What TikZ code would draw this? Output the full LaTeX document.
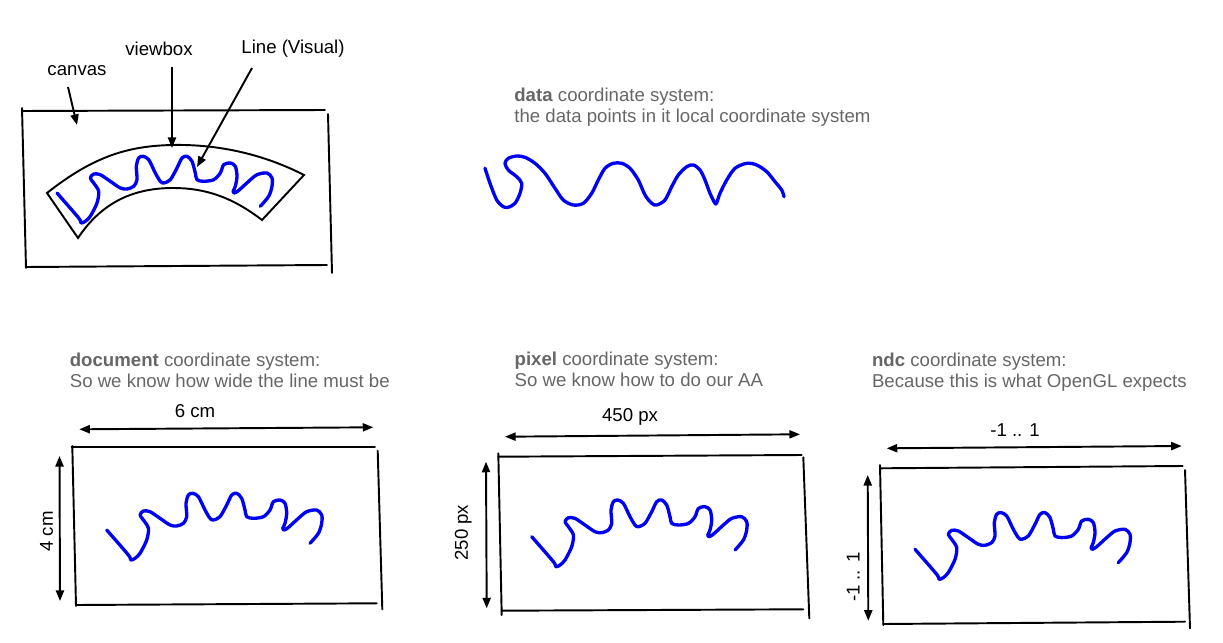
\documentclass[tikz,border=0pt]{standalone}
\usepackage{fontspec}
\setmainfont{Liberation Sans}
\usetikzlibrary{arrows.meta}
\definecolor{captiongray}{HTML}{666666}
\definecolor{waveblue}{HTML}{0000F2}

\tikzset{
  frameline/.style={line width=1.1pt, line cap=round},
  dimarrow/.style={line width=1.1pt,
    {Triangle[length=6pt,width=4.6pt]}-{Triangle[length=6pt,width=4.6pt]}},
  pointer/.style={line width=1.1pt, -{Triangle[length=6pt,width=4.6pt]}},
  blueline/.style={waveblue, line width=1.9pt, line cap=round, line join=round},
  lbl/.style={inner sep=0pt, font=\fontsize{10.6}{12}\selectfont},
  caption/.style={inner sep=0pt, anchor=north west, align=left,
    text=captiongray, font=\fontsize{10.6}{11.9}\selectfont},
  % the same wiggly line, drawn from its start point
  wave/.pic={\draw[blueline] plot[smooth, tension=0.5] coordinates {
    (0,0) (21.7,25) (24,30) (28.3,28.3) (33.3,23.3) (40,10) (41.7,-1.7)
    (36.7,-10) (33.3,-15) (36.7,-19) (43.3,-18.3) (53.3,-11.7) (63.3,-5)
    (70,-4) (76.7,-6.7) (80,-13.3) (79.3,-26.7) (81.7,-35) (86,-36.7)
    (91.7,-33.3) (98.3,-20) (103.3,-11.7) (106.7,-10) (113.3,-13.3)
    (120,-25) (125,-35) (130,-36.7) (135,-31.7) (138.3,-20) (140,-13.3)
    (146.7,-11.7) (156.7,-13.3) (163.3,-20) (166.7,-28.3) (173.3,-30)
    (178.3,-26.7) (180,-16.7) (178.3,-6.7) (176,-1.5) (177,0) (181,-2)
    (191.7,-11.7) (200,-18.3) (210,-20) (215,-15) (215,-6.7) (211.7,3.3)
    (203.3,13.3)};}
}

\begin{document}
\begin{tikzpicture}[x=0.02cm, y=-0.02cm]
\useasboundingbox (0,0) rectangle (1223,642);

% ---------- canvas with its viewbox ----------
\draw[frameline] (22,111) -- (325,110);
\draw[frameline] (22,108) -- (26,268);
\draw[frameline] (26,267) -- (327,265);
\draw[frameline] (328,114) -- (332,273);

\draw[frameline, line join=miter]
  (47,193) .. controls (95,155) and (130,146) .. (172,145)
           .. controls (220,144) and (265,155) .. (304,175)
  -- (262,220) .. controls (232,197) and (205,188) .. (173,188)
               .. controls (130,188) and (100,205) .. (78,238)
  -- cycle;

\pic at (57,193) {wave};

\node[lbl] (canvaslbl) at (77,71) {canvas};
\node[lbl] (viewboxlbl) at (159,49) {viewbox};
\node[lbl] (linelbl) at (293,49) {Line (Visual)};

\coordinate (canvastip) at (77,125);
\coordinate (viewboxtip) at (172,148);
\coordinate (linetip) at (197,167);
\draw[pointer] (68,87) -- (canvastip);
\draw[pointer] (172,67) -- (viewboxtip);
\draw[pointer] (252,68) -- (linetip);

% ---------- data coordinate system ----------
\node[caption] (datacap) at (514,87.5)
  {\textbf{data} coordinate system:\\the data points in it local coordinate system};

\draw[blueline] plot[smooth, tension=0.5] coordinates {
  (485,168.3) (490,183.3) (496.7,200) (503.3,206.7) (508.3,207.3)
  (515,203.3) (520,193.3) (521.7,183.3) (516.7,176.7) (508.3,170)
  (505,163.3) (508.3,158.3) (516.7,156) (525,157.3) (535,163.3)
  (545,173.3) (555,188.3) (563.3,200) (573.3,205) (583.3,203.3)
  (591.7,193.3) (598.3,180) (605,168.3) (613.3,163.3) (621.7,163.3)
  (630,168.3) (638.3,180) (645,195) (651.7,203.3) (656.7,205)
  (665,200) (671.7,186.7) (678.3,175) (686.7,166.7) (693.3,165)
  (700,170) (705,180) (710,193.3) (715,203.3) (716.7,202.7)
  (720,193.3) (726.7,180) (735,168.3) (746.7,163.3) (756.7,165)
  (766.7,171.7) (775,181.7) (781.7,190) (784,196.7)};

% ---------- document coordinate system ----------
\node[caption] (doccap) at (69.5,353)
  {\textbf{document} coordinate system:\\So we know how wide the line must be};
\draw[frameline] (71.7,447.3) -- (375,447.3);
\draw[frameline] (72.3,446) -- (76,606);
\draw[frameline] (76,605) -- (376.7,603.3);
\draw[frameline] (377.7,450.7) -- (382.3,609.3);
\coordinate (docwl) at (79.3,429.3);
\coordinate (docwr) at (373.3,427.3);
\coordinate (dochb) at (59.5,456);
\coordinate (dochb2) at (60,601);
\draw[dimarrow] (docwl) -- (docwr);
\draw[dimarrow] (dochb) -- (dochb2);
\node[lbl] (docw) at (195,411.5) {6 cm};
\node[lbl, rotate=90] (doch) at (46.5,531.5) {4 cm};
\pic at (106.7,530) {wave};

% ---------- pixel coordinate system ----------
\node[caption] (pixcap) at (514.3,351.5)
  {\textbf{pixel} coordinate system:\\So we know how to do our AA};
\draw[frameline] (498.3,456.7) -- (801.7,455);
\draw[frameline] (498.3,453.3) -- (501.7,615);
\draw[frameline] (501.7,610.7) -- (803.3,609.3);
\draw[frameline] (803.3,457.3) -- (809.3,618.3);
\coordinate (pixwl) at (505,436.7);
\coordinate (pixwr) at (800,434.3);
\coordinate (pixht) at (486,461.7);
\coordinate (pixhb) at (486.7,608.3);
\draw[dimarrow] (pixwl) -- (pixwr);
\draw[dimarrow] (pixht) -- (pixhb);
\node[lbl] (pixw) at (630,417) {450 px};
\node[lbl, rotate=90] (pixh) at (463.3,532.7) {250 px};
\pic at (531.7,536.7) {wave};

% ---------- ndc coordinate system ----------
\node[caption] (ndccap) at (871.7,353)
  {\textbf{ndc} coordinate system:\\Because this is what OpenGL expects};
\draw[frameline] (880,468.3) -- (1182.7,466);
\draw[frameline] (880,465) -- (883.3,625);
\draw[frameline] (883.3,624) -- (1185,621.7);
\draw[frameline] (1185,470) -- (1190,628.3);
\coordinate (ndcwl) at (886.7,448.3);
\coordinate (ndcwr) at (1181.7,446);
\coordinate (ndcht) at (867.7,475);
\coordinate (ndchb) at (868.3,620.7);
\draw[dimarrow] (ndcwl) -- (ndcwr);
\draw[dimarrow] (ndcht) -- (ndchb);
\node[lbl] (ndcw) at (1015,430) {-1 .. 1};
\node[lbl, rotate=90] (ndch) at (853.3,577.3) {-1 .. 1};
\pic at (915,549.3) {wave};

\end{tikzpicture}
\end{document}
